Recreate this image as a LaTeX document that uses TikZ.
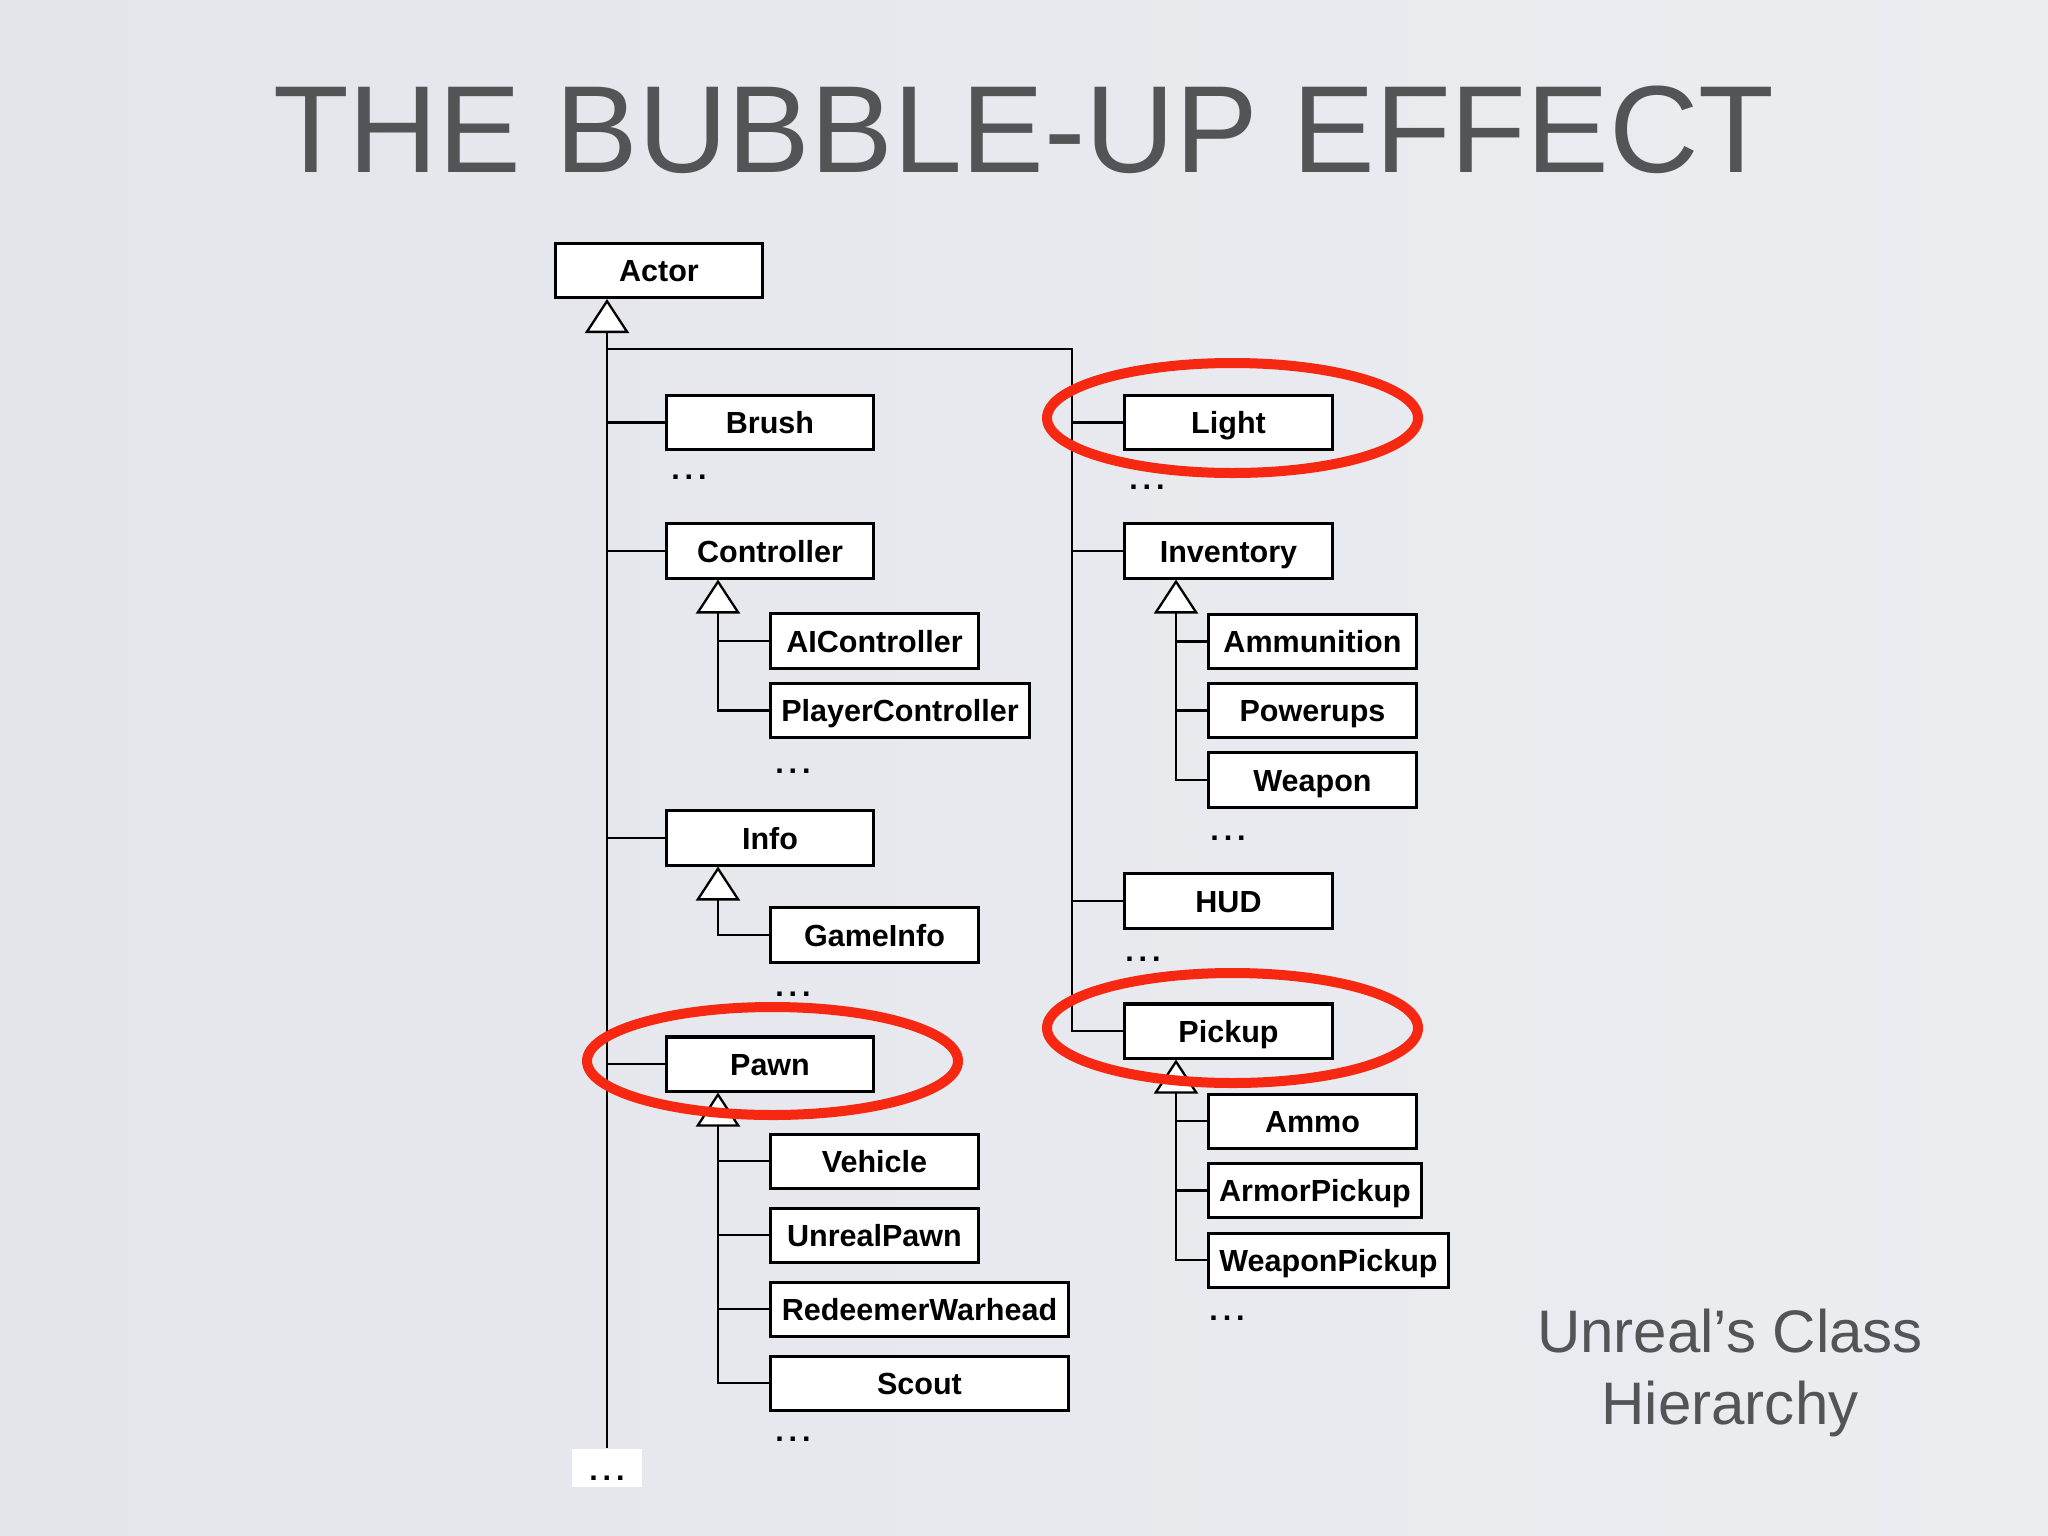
\documentclass[tikz,border=0pt]{standalone}
\usepackage{fontspec}
\setmainfont{Liberation Sans}
\usetikzlibrary{arrows.meta}
\definecolor{bgA}{RGB}{227,229,235}
\definecolor{bgB}{RGB}{236,237,241}
\definecolor{titlegray}{RGB}{83,84,86}
\definecolor{hlred}{RGB}{246,40,18}
\begin{document}
\begin{tikzpicture}[x=0.01cm,y=-0.01cm,
  cls/.style={draw=black, fill=white, line width=0.03cm, inner sep=0pt,
    minimum height=0.54cm, minimum width=#1, text height=0.22cm, text depth=0cm,
    font=\fontsize{8.68pt}{10pt}\selectfont\bfseries},
  cls/.default=2.07cm,
  dotsx/.style={anchor=base, inner sep=0pt, font=\fontsize{8.68pt}{10pt}\selectfont\bfseries},
  link/.style={line width=0.023cm, draw=black},
  gen/.style={link, -{Triangle[width=0.44cm,length=0.34cm,fill=white,line width=0.023cm]}},
  hl/.style={draw=hlred, line width=0.1cm}
]
\useasboundingbox (0,0) rectangle (2048,1536);
\shade[left color=bgA, right color=bgB] (0,0) rectangle (2048,1536);

% titles
\node[anchor=base, inner sep=0pt, text=titlegray, font=\fontsize{35.25pt}{40pt}\selectfont] (title) at (1024,172) {THE BUBBLE-UP EFFECT};
\node[anchor=base, inner sep=0pt, text=titlegray, align=center, font=\fontsize{17.07pt}{20.2pt}\selectfont] (subtitle) at (1730,1424) {Unreal’s Class\\Hierarchy};

% boxes
\node[cls] (Actor) at (659,270.5) {Actor};
\node[cls] (Brush) at (770,422.5) {Brush};
\node[cls] (Controller) at (770,551) {Controller};
\node[cls] (Info) at (770,838) {Info};
\node[cls] (Pawn) at (770,1064) {Pawn};
\node[cls] (AIController) at (874.5,641) {AIController};
\node[cls=2.58cm] (PlayerController) at (900,710.5) {PlayerController};
\node[cls] (GameInfo) at (874.5,935) {GameInfo};
\node[cls] (Vehicle) at (874.5,1161) {Vehicle};
\node[cls] (UnrealPawn) at (874.5,1235) {UnrealPawn};
\node[cls=2.97cm] (RedeemerWarhead) at (919.5,1309) {RedeemerWarhead};
\node[cls=2.97cm] (Scout) at (919.5,1383) {Scout};
\node[cls] (Light) at (1228.5,422.5) {Light};
\node[cls] (Inventory) at (1228.5,551) {Inventory};
\node[cls] (HUD) at (1228.5,901) {HUD};
\node[cls] (Pickup) at (1228.5,1031) {Pickup};
\node[cls] (Ammunition) at (1312.5,641.5) {Ammunition};
\node[cls] (Powerups) at (1312.5,710.5) {Powerups};
\node[cls] (Weapon) at (1312.5,780) {Weapon};
\node[cls] (Ammo) at (1312.5,1121) {Ammo};
\node[cls=2.12cm] (ArmorPickup) at (1315,1190.5) {ArmorPickup};
\node[cls=2.39cm] (WeaponPickup) at (1328.5,1260) {WeaponPickup};

% bottom white box with dots
\node[fill=white, inner sep=0pt, minimum width=0.69cm, minimum height=0.38cm] (endbox) at (607,1468) {};
\node[dotsx] (d0) at (607,1480) {.\kern0.05cm.\kern0.05cm.};

% other dots
\node[dotsx] (d1) at (689,479) {.\kern0.05cm.\kern0.05cm.};
\node[dotsx] (d2) at (793,773) {.\kern0.05cm.\kern0.05cm.};
\node[dotsx] (d3) at (793,996) {.\kern0.05cm.\kern0.05cm.};
\node[dotsx] (d4) at (793,1441) {.\kern0.05cm.\kern0.05cm.};
\node[dotsx] (d5) at (1147,489) {.\kern0.05cm.\kern0.05cm.};
\node[dotsx] (d6) at (1228,840) {.\kern0.05cm.\kern0.05cm.};
\node[dotsx] (d7) at (1143,961) {.\kern0.05cm.\kern0.05cm.};
\node[dotsx] (d8) at (1227,1320) {.\kern0.05cm.\kern0.05cm.};

% trunk coordinates
\coordinate (cT) at (718,0);
\coordinate (iT) at (1176,0);
\coordinate (rb) at (1072,349);

% Actor hierarchy
\draw[gen] (endbox.north) -- (Actor.south -| endbox.north);
\draw[link] (rb -| endbox.north) -- (rb) |- (Pickup.west);
\foreach \n in {Brush,Controller,Info,Pawn}
  \draw[link] (\n.west) -- (\n.west -| endbox.north);
\foreach \n in {Light,Inventory,HUD}
  \draw[link] (\n.west) -- (\n.west -| rb);

% Controller
\draw[gen] (PlayerController.west) -| (Controller.south -| cT);
\draw[link] (AIController.west) -- (AIController.west -| cT);
% Info
\draw[gen] (GameInfo.west) -| (Info.south -| cT);
% Pawn
\draw[gen] (Scout.west) -| (Pawn.south -| cT);
\foreach \n in {Vehicle,UnrealPawn,RedeemerWarhead}
  \draw[link] (\n.west) -- (\n.west -| cT);
% Inventory
\draw[gen] (Weapon.west) -| (Inventory.south -| iT);
\foreach \n in {Ammunition,Powerups}
  \draw[link] (\n.west) -- (\n.west -| iT);
% Pickup
\draw[gen] (WeaponPickup.west) -| (Pickup.south -| iT);
\foreach \n in {Ammo,ArmorPickup}
  \draw[link] (\n.west) -- (\n.west -| iT);

% highlights
\draw[hl] (1232.5,418) ellipse [x radius=185.5, y radius=55];
\draw[hl] (1232.5,1028) ellipse [x radius=185.5, y radius=55];
\draw[hl] (772.5,1061) ellipse [x radius=185.5, y radius=54];
\end{tikzpicture}
\end{document}
